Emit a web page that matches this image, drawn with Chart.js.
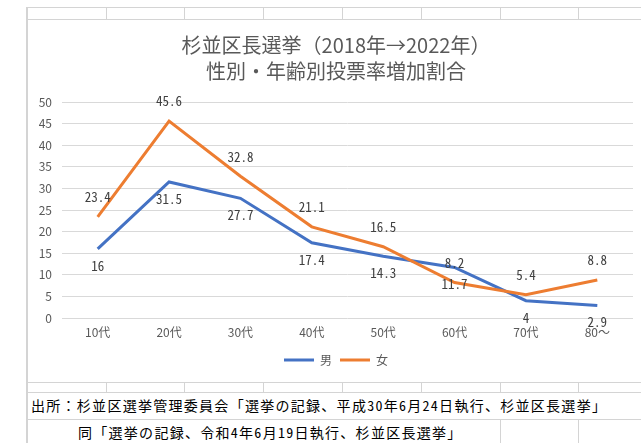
<!DOCTYPE html>
<html>
<head>
<meta charset="utf-8">
<script src="https://cdn.jsdelivr.net/npm/chart.js@4.4.0/dist/chart.umd.min.js"></script>
<style>
  html, body { margin: 0; padding: 0; background: #fff; }
  body { width: 641px; height: 443px; position: relative; overflow: hidden; font-family: "Noto Sans CJK JP", sans-serif; }
  .hl, .vl { position: absolute; background: #d4d4d4; }
  #chartBox { position: absolute; left: 28px; top: 20px; width: 616px; height: 362px; background: #fff; }
  .note { position: absolute; font-family: "Noto Sans Mono CJK JP", "Noto Sans CJK JP", monospace; font-size: 14px; letter-spacing: 1.28px; color: #000; white-space: nowrap; line-height: 16px; }
</style>
</head>
<body>
<div id="grid"></div>
<div id="chartBox"><canvas id="rateChart" width="616" height="362"></canvas></div>
<div class="note" style="left:31px; top:397px;">出所：杉並区選挙管理委員会「選挙の記録、平成30年6月24日執行、杉並区長選挙」</div>
<div class="note" style="left:78px; top:424px;">同「選挙の記録、令和4年6月19日執行、杉並区長選挙」</div>
<script>
const ageGroups = ["10代", "20代", "30代", "40代", "50代", "60代", "70代", "80～"];
const maleRates = [16, 31.5, 27.7, 17.4, 14.3, 11.7, 4, 2.9];
const femaleRates = [23.4, 45.6, 32.8, 21.1, 16.5, 8.2, 5.4, 8.8];
const yTickValues = [0, 5, 10, 15, 20, 25, 30, 35, 40, 45, 50];

/*** spreadsheet cell lines around the chart ***/
const grid = document.getElementById("grid");
function line(cls, x, y, w, h) {
    const d = document.createElement("div");
    d.className = cls;
    d.style.left = x + "px"; d.style.top = y + "px";
    d.style.width = w + "px"; d.style.height = h + "px";
    grid.appendChild(d);
}
const colEdges = [106, 184, 263, 342, 421, 500, 578];
line("vl", 26, 7, 2, 436);
line("hl", 27, 7, 614, 1);
line("hl", 27, 19, 614, 1);
line("hl", 27, 382, 614, 1);
line("hl", 27, 392, 614, 1);
line("hl", 27, 419, 614, 1);
colEdges.forEach(x => {
    line("vl", x, 7, 1, 13);
    line("vl", x, 382, 1, 10);
});
[500, 578].forEach(x => line("vl", x, 419, 1, 24));

/*** value labels next to each point ***/
const pointLabels = {
    id: "pointLabels",
    afterDatasetsDraw(chart) {
        const ctx = chart.ctx;
        ctx.save();
        ctx.font = '13px "Noto Sans Mono CJK JP", "Noto Sans CJK JP", monospace';
        ctx.fillStyle = "#404040";
        ctx.textAlign = "center";
        ctx.textBaseline = "middle";
        chart.data.datasets.forEach((ds, i) => {
            chart.getDatasetMeta(i).data.forEach((pt, j) => {
                ctx.fillText(String(ds.data[j]), pt.x, pt.y + ds.labelOffset);
            });
        });
        ctx.restore();
    }
};

const textColor = "#595959";

new Chart(document.getElementById("rateChart"), {
    type: "line",
    data: {
        labels: ageGroups,
        datasets: [
            { label: "男", data: maleRates, borderColor: "#4472C4", backgroundColor: "#4472C4", borderWidth: 3, pointRadius: 0, order: 1, labelOffset: 17 },
            { label: "女", data: femaleRates, borderColor: "#ED7D31", backgroundColor: "#ED7D31", borderWidth: 3, pointRadius: 0, order: 0, labelOffset: -19.5 }
        ]
    },
    options: {
        responsive: false,
        animation: false,
        layout: { padding: { left: 0, right: 0, top: 0, bottom: 6 } },
        plugins: {
            title: {
                display: true,
                text: ["杉並区長選挙（2018年→2022年）", "性別・年齢別投票率増加割合"],
                color: textColor,
                font: { family: "Noto Sans CJK JP", size: 20, weight: "normal", lineHeight: 1.3 },
                padding: { top: 12, bottom: 18 }
            },
            legend: {
                position: "bottom",
                labels: {
                    color: textColor,
                    font: { family: "Noto Sans CJK JP", size: 12 },
                    usePointStyle: true,
                    pointStyle: "line",
                    pointStyleWidth: 30,
                    padding: 8,
                    sort: (a, b) => a.datasetIndex - b.datasetIndex
                }
            },
            tooltip: { enabled: false }
        },
        scales: {
            x: {
                offset: true,
                grid: { display: false, drawTicks: false },
                border: { display: false },
                ticks: { color: textColor, font: { family: "Noto Sans CJK JP", size: 12 }, padding: 7, maxRotation: 0 },
                afterFit: s => { s.height = 28; }
            },
            y: {
                min: 0,
                max: 50,
                afterBuildTicks: s => { s.ticks = yTickValues.map(v => ({ value: v })); },
                grid: { color: "#d9d9d9", drawTicks: false },
                border: { display: false },
                ticks: { color: textColor, font: { family: "Noto Sans CJK JP", size: 12 }, padding: 10 },
                afterFit: s => { s.width = 34; }
            },
            // empty strip on the right so the plot ends where the reference does
            rightGap: {
                position: "right",
                grid: { display: false, drawTicks: false },
                border: { display: false },
                ticks: { display: false },
                afterFit: s => { s.width = 11; }
            }
        }
    },
    plugins: [pointLabels]
});
</script>
</body>
</html>
